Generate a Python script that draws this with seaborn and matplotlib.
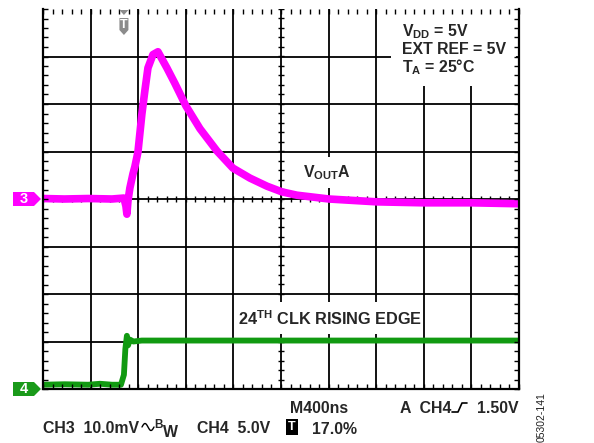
import numpy as np
import matplotlib
matplotlib.use('Agg')
import matplotlib.pyplot as plt
import seaborn as sns
from matplotlib.patches import Polygon, Rectangle
from matplotlib.lines import Line2D
from matplotlib.ticker import MultipleLocator
from matplotlib.transforms import blended_transform_factory

# scope settings
ns_per_div = 400
ch3_mv_per_div = 10.0
ch4_v_per_div = 5.0
trigger_pct = 17.0
ch3_ground_div = 0
ch4_ground_div = -4

# CH3 (VOUTA, mV)
ch3_t = [-680, -500, -300, -100, 0, 17, 25, 34, 50, 76, 92, 118, 151, 176, 202,
         244, 286, 319, 361, 429, 521, 639, 782, 916, 1059, 1202, 1328, 1454,
         1723, 2126, 2513, 2924, 3320]
ch3_mv = [0.1, 0.0, 0.1, 0.0, 0.2, -1.5, -3.2, -0.4, 2.3, 5.3, 6.8, 9.9, 17.9,
          22.8, 27.6, 30.4, 31.0, 29.5, 27.6, 24.3, 19.6, 14.8, 10.1, 6.5, 4.4,
          2.7, 1.5, 0.8, 0.0, -0.6, -0.8, -0.8, -1.0]

# CH4 (CLK, V)
ch4_t = [-680, -500, -300, -200, -100, -25, 0, 12, 25, 35, 50, 80, 150, 400,
         1000, 2000, 3000, 3320]
ch4_v = [0.45, 0.5, 0.45, 0.55, 0.45, 0.45, 1.5, 4.2, 5.6, 4.6, 5.2, 5.0, 5.1,
         5.1, 5.1, 5.1, 5.1, 5.1]

W, H = 594, 443
t_left = -trigger_pct / 100 * 10 * ns_per_div

sns.set_theme(style='white')
plt.rcParams['font.family'] = ['Liberation Sans', 'DejaVu Sans']
plt.rcParams['font.weight'] = 'bold'
plt.rcParams['mathtext.fontset'] = 'custom'
plt.rcParams['mathtext.rm'] = 'Liberation Sans:bold'
plt.rcParams['mathtext.it'] = 'Liberation Sans:bold'
plt.rcParams['mathtext.bf'] = 'Liberation Sans:bold'


def fp(x, y):
    # pixel position (top-left origin) -> figure fraction
    return x / W, 1 - y / H


fig = plt.figure(figsize=(W / 100, H / 100), dpi=100)
fig.patch.set_facecolor('white')
ax = fig.add_axes([43 / W, 1 - 389 / H, 476 / W, 380 / H])
ax.set_xlim(0, 10)
ax.set_ylim(-4, 4)
ax.set_facecolor('white')

# graticule
for gx in range(1, 10):
    ax.axvline(gx, color='black', lw=1.3, zorder=1)
for gy in range(-3, 4):
    ax.axhline(gy, color='black', lw=1.3, zorder=1)
minor_x = np.arange(0, 10.01, 0.2)
minor_y = np.arange(-4, 4.01, 0.2)
ax.plot(minor_x, np.zeros_like(minor_x), ls='none', marker='|', ms=5, mew=1,
        color='black', zorder=1)
ax.plot(np.full_like(minor_y, 5), minor_y, ls='none', marker='_', ms=5, mew=1,
        color='black', zorder=1)

for side in ['left', 'right', 'bottom']:
    ax.spines[side].set_linewidth(1.6)
    ax.spines[side].set_color('black')
ax.spines['top'].set_visible(False)
ax.set_xticks([])
ax.set_yticks([])
ax.xaxis.set_minor_locator(MultipleLocator(0.2))
ax.yaxis.set_minor_locator(MultipleLocator(0.2))
ax.tick_params(which='minor', direction='in', length=3.5, width=1, color='black',
               top=True, right=True, bottom=True, left=True,
               labelbottom=False, labelleft=False)
ax.set_axisbelow(False)

# traces
x3 = (np.array(ch3_t) - t_left) / ns_per_div
y3 = np.array(ch3_mv) / ch3_mv_per_div + ch3_ground_div
x4 = (np.array(ch4_t) - t_left) / ns_per_div
y4 = np.array(ch4_v) / ch4_v_per_div + ch4_ground_div
sns.lineplot(x=x4, y=y4, ax=ax, color='#119a11', lw=4.2, sort=False, zorder=2)
sns.lineplot(x=x3, y=y3, ax=ax, color='#ff00ff', lw=5.5, sort=False, zorder=2)
ax.set_xlabel('')
ax.set_ylabel('')

tf = fig.transFigure
fs = 11.4

# annotation boxes hiding the graticule
def white_box(x0, y0, x1, y1):
    ax.add_patch(Rectangle(fp(x0, y1), (x1 - x0) / W, (y1 - y0) / H,
                           transform=tf, facecolor='white', edgecolor='none',
                           zorder=1.5, clip_on=False))

white_box(391, 9, 516, 86)
ax.text(*fp(402, 36), r'$V_{DD}$ = 5V', transform=tf, fontsize=fs, zorder=3)
ax.text(*fp(402, 54), 'EXT REF = 5V', transform=tf, fontsize=fs, zorder=3)
ax.text(*fp(402, 72), r'$T_{A}$ = 25°C', transform=tf, fontsize=fs, zorder=3)

white_box(296, 157, 360, 188)
ax.text(*fp(303, 177), r'$V_{OUT}$A', transform=tf, fontsize=fs, zorder=3)

white_box(234, 302, 423, 334)
ax.text(*fp(238, 325), r'24$^{TH}$ CLK RISING EDGE', transform=tf, fontsize=11.7,
        zorder=3)

# channel ground markers
bt = blended_transform_factory(tf, ax.transData)
h = 7.0 / 47.5
for label, g, col in [('3', ch3_ground_div, '#ff00ff'), ('4', ch4_ground_div, '#1a9a1a')]:
    pts = [(13 / W, g + h), (34 / W, g + h), (41 / W, g), (34 / W, g - h), (13 / W, g - h)]
    ax.add_patch(Polygon(pts, closed=True, transform=bt, facecolor=col,
                         edgecolor='none', clip_on=False, zorder=3))
    ax.text(24 / W, g, label, transform=bt, color='white', fontsize=10.5,
            ha='center', va='center', zorder=4)

# trigger position marker
tx = (0 - t_left) / ns_per_div
tt = blended_transform_factory(ax.transData, tf)
dx = 1 / 47.6
grey = '#8c8c8c'
ax.add_patch(Polygon([(tx - 4.5 * dx, 1 - 10 / H), (tx + 4.5 * dx, 1 - 10 / H),
                      (tx, 1 - 15 / H)], transform=tt, facecolor=grey,
                     edgecolor='none', clip_on=False, zorder=3))
ax.add_patch(Polygon([(tx - 4.5 * dx, 1 - 18 / H), (tx + 4.5 * dx, 1 - 18 / H),
                      (tx + 4.5 * dx, 1 - 30 / H), (tx, 1 - 35 / H),
                      (tx - 4.5 * dx, 1 - 30 / H)], transform=tt, facecolor=grey,
                     edgecolor='none', clip_on=False, zorder=3))
ax.text(tx, 1 - 25 / H, 'T', transform=tt, color='white', fontsize=9,
        ha='center', va='center', zorder=4)

# readout below the screen
fig.text(*fp(290, 413), 'M400ns', fontsize=fs)
fig.text(*fp(400, 413), 'A  CH4', fontsize=fs)
fig.text(*fp(519, 413), '1.50V', fontsize=fs, ha='right')
fig.add_artist(Line2D([452 / W, 458 / W, 462 / W, 467 / W],
                      [1 - 412 / H, 1 - 412 / H, 1 - 403 / H, 1 - 403 / H],
                      transform=tf, color='black', lw=1.2))

fig.text(*fp(43, 433), 'CH3  10.0mV', fontsize=fs)
# bandwidth-limit wave glyph
gx = np.linspace(142, 154, 25)
gy = 427 - 3.5 * np.sin((gx - 142) / 12 * 2 * np.pi + np.pi / 2 * 0)
fig.add_artist(Line2D(gx / W, 1 - gy / H, transform=tf, color='black', lw=1.0))
fig.text(*fp(154, 428), 'B', fontsize=8.5)
fig.text(*fp(163, 437), 'W', fontsize=fs)
fig.text(*fp(197, 433), 'CH4  5.0V', fontsize=fs)
fig.text(*fp(292, 427), 'T', fontsize=9, color='white', ha='center',
         va='center', bbox=dict(boxstyle='square,pad=0.15', fc='black', ec='none'))
fig.text(*fp(312, 434), '17.0%', fontsize=fs)
fig.text(*fp(542, 417), '05302-141', fontsize=7.5, fontweight='normal',
         rotation=90, ha='center', va='center', color='#222222')

fig.savefig('out.png', dpi=100, facecolor='white')
